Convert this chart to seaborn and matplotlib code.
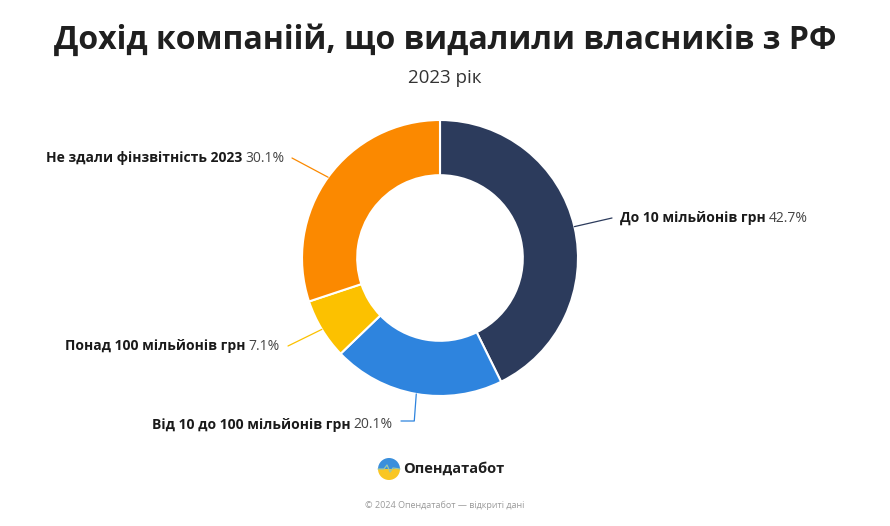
import matplotlib.pyplot as plt
import numpy as np
import seaborn as sns
from matplotlib.patches import Wedge

categories = [
    "До 10 мільйонів грн",
    "Від 10 до 100 мільйонів грн",
    "Понад 100 мільйонів грн",
    "Не здали фінзвітність 2023",
]
shares = [42.7, 20.1, 7.1, 30.1]
colors = ["#2c3b5c", "#2e84de", "#fcc100", "#fb8900"]

title = "Дохід компаніій, що видалили власників з РФ"
subtitle = "2023 рік"
brand = "Опендатабот"
footer = "© 2024 Опендатабот — відкриті дані"

sns.set_theme(style="white")
plt.rcParams["font.family"] = ["Open Sans", "DejaVu Sans"]

W, H = 890, 526
fig = plt.figure(figsize=(W / 100, H / 100), dpi=100)
ax = fig.add_axes([0, 0, 1, 1])
ax.set_xlim(0, W)
ax.set_ylim(0, H)
ax.set_aspect("equal")
ax.axis("off")

cx, cy, r = 440, 268, 138
wedges, _ = ax.pie(
    shares,
    colors=colors,
    startangle=90,
    counterclock=False,
    center=(cx, cy),
    radius=r,
    wedgeprops=dict(width=r * 0.4, edgecolor="white", linewidth=1.5),
)
ax.set_xlim(0, W)
ax.set_ylim(0, H)

# label anchor points (pixel coords, y up) and alignment
anchors = [(620, 308, "left"), (393, 101, "right"), (280, 180, "right"), (284, 368, "right")]

renderer = fig.canvas.get_renderer()
for wedge, name, share, color, (lx, ly, side) in zip(wedges, categories, shares, colors, anchors):
    mid = np.deg2rad((wedge.theta1 + wedge.theta2) / 2)
    ex, ey = cx + r * np.cos(mid), cy + r * np.sin(mid)
    gap = 8 if side == "left" else -8
    if abs(np.cos(mid)) < 0.3:
        ax.plot([ex, ex - 2, lx - gap], [ey, ly + 4, ly + 4], color=color, lw=0.9)
    else:
        ax.plot([ex, lx - gap], [ey, ly], color=color, lw=0.9)

    pct = f"{share}%"
    if side == "left":
        t1 = ax.text(lx, ly, name, ha="left", va="center", fontsize=10,
                     fontweight="bold", color="#1a1a1a")
        bb = t1.get_window_extent(renderer)
        ax.text(bb.x1 + 3, ly, pct, ha="left", va="center", fontsize=10, color="#444444")
    else:
        t2 = ax.text(lx, ly, pct, ha="right", va="center", fontsize=10, color="#444444")
        bb = t2.get_window_extent(renderer)
        ax.text(bb.x0 - 3, ly, name, ha="right", va="center", fontsize=10,
                fontweight="bold", color="#1a1a1a")

ax.text(W / 2, H - 40, title, ha="center", va="center", fontsize=23,
        fontweight="bold", color="#1f1f1f")
ax.text(W / 2, H - 78, subtitle, ha="center", va="center", fontsize=13.5, color="#333333")

# brand logo
lx0, ly0, lr = 389, H - 469, 11
ax.add_patch(Wedge((lx0, ly0), lr, 0, 180, color="#3a8fdc", lw=0))
ax.add_patch(Wedge((lx0, ly0), lr, 180, 360, color="#f9c623", lw=0))
ax.plot([lx0 - lr, lx0 - 5, lx0 - 2, lx0 + 1, lx0 + 4, lx0 + lr],
        [ly0, ly0, ly0 + 4, ly0 - 3, ly0 + 1, ly0], color="#9cc7a8", lw=0.9)
ax.text(403, ly0, brand, ha="left", va="center", fontsize=10.5, fontweight="bold",
        color="#1f1f1f")
ax.text(W / 2, H - 505, footer, ha="center", va="center", fontsize=6.5, color="#9a9a9a")

fig.savefig("out.png", dpi=100, facecolor="white")
